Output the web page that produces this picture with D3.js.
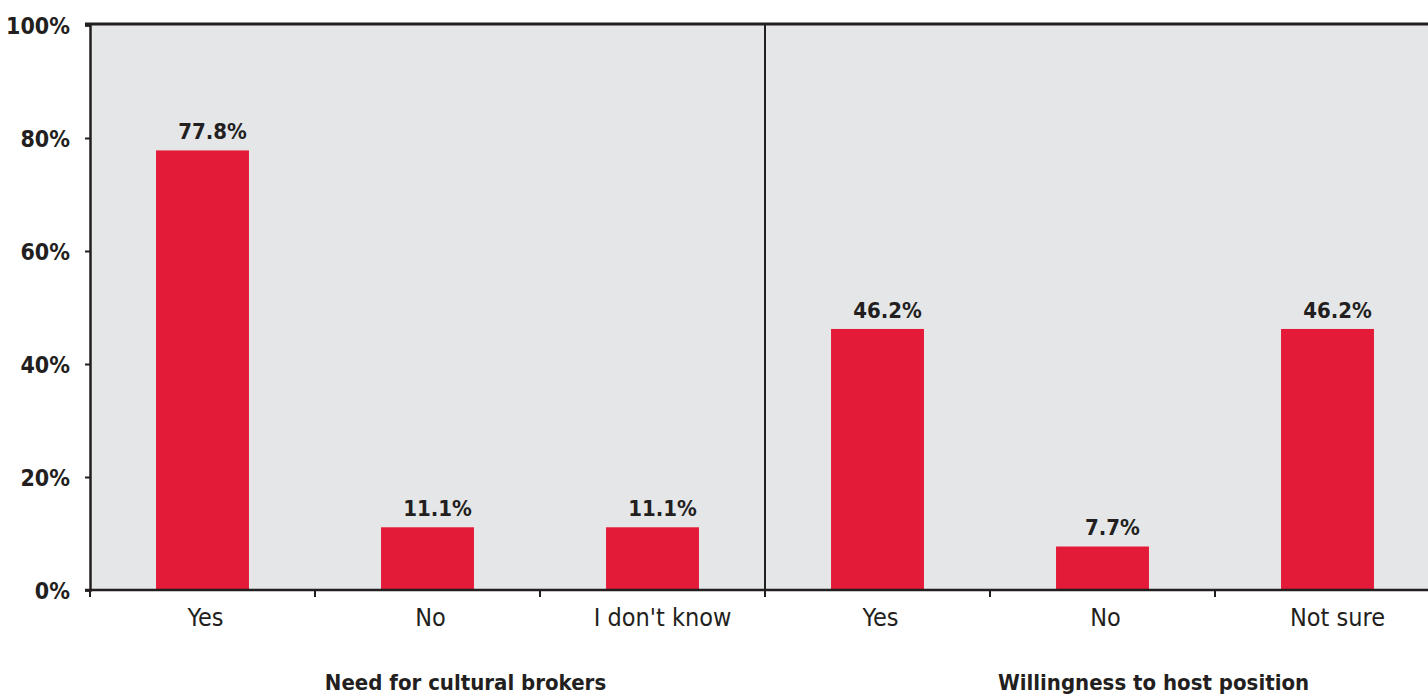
<!DOCTYPE html>
<html><head><meta charset="utf-8">
<script src="https://cdn.jsdelivr.net/npm/d3@7/dist/d3.min.js"></script>
<style>
body{margin:0;background:#fff;}
svg{display:block;}
text{font-family:"Liberation Sans Narrow","DejaVu Sans Condensed","Arial Narrow",sans-serif;fill:#231f20;}
</style></head>
<body>
<script>
const categories = ["Yes","No","I don't know","Yes","No","Not sure"];
const values = [77.8, 11.1, 11.1, 46.2, 7.7, 46.2];
const groups = ["Need for cultural brokers","Willingness to host position"];
const groupIndex = [0,0,0,1,1,1];
const yTicks = [0,20,40,60,80,100];

const W=1428,H=696;
const m={left:90,right:-12,top:25,bottom:106};
const svg=d3.select("body").append("svg").attr("width",W).attr("height",H);
const ids=categories.map((c,i)=>i);
const x=d3.scaleBand().domain(ids).range([m.left,W-m.right]).paddingInner(0.587).paddingOuter(0.2935);
const xs=d3.scaleBand().domain(ids).range([m.left,W-m.right]);
const y=d3.scaleLinear().domain([0,100]).range([H-m.bottom,m.top]);

svg.append("rect").attr("x",m.left).attr("y",m.top).attr("width",W-m.right-m.left).attr("height",y(0)-m.top).attr("fill","#e5e6e8");

svg.selectAll("rect.bar").data(values).enter().append("rect").attr("class","bar")
 .attr("x",(d,i)=>x(i)).attr("width",x.bandwidth()).attr("y",d=>y(d)).attr("height",d=>y(0)-y(d)).attr("fill","#e31a38");

svg.selectAll("text.val").data(values).enter().append("text").attr("class","val")
 .attr("x",(d,i)=>x(i)+x.bandwidth()/2+10).attr("y",d=>y(d)-11)
 .attr("text-anchor","middle").attr("font-weight","bold").attr("font-size",22)
 .text(d=>d.toFixed(1)+"%");

// separator between groups
const sepX=xs(3);
svg.append("line").attr("x1",sepX).attr("x2",sepX).attr("y1",m.top).attr("y2",y(0)+6).attr("stroke","#231f20").attr("stroke-width",2);

// top border
svg.append("line").attr("x1",m.left-5).attr("x2",W).attr("y1",m.top-1).attr("y2",m.top-1).attr("stroke","#231f20").attr("stroke-width",3);

// y axis
const ya=svg.append("g").attr("transform",`translate(${m.left},0)`)
 .call(d3.axisLeft(y).tickValues(yTicks).tickFormat(d=>d+"%").tickSize(5).tickPadding(15));
ya.select(".domain").attr("stroke","#231f20").attr("stroke-width",2.5);
ya.selectAll(".tick line").attr("stroke","#231f20").attr("stroke-width",2);
ya.selectAll(".tick text").attr("font-size",23).attr("font-weight","bold").attr("font-family",null).attr("fill","#231f20").attr("dy","0.35em");

// x axis
const xa=svg.append("g").attr("transform",`translate(0,${y(0)})`)
 .call(d3.axisBottom(xs).tickFormat(i=>categories[i]).tickSize(0).tickPadding(18));
xa.select(".domain").remove();
xa.selectAll(".tick text").attr("font-size",25).attr("font-family",null).attr("fill","#231f20").attr("dx",(i)=>categories[i].length>4?10:3);
svg.append("line").attr("x1",m.left-5).attr("x2",W).attr("y1",y(0)).attr("y2",y(0)).attr("stroke","#231f20").attr("stroke-width",2.5);
// boundary ticks
const bounds=ids.map(i=>xs(i));
svg.selectAll("line.bt").data(bounds).enter().append("line").attr("class","bt")
 .attr("x1",d=>d).attr("x2",d=>d).attr("y1",y(0)).attr("y2",y(0)+7).attr("stroke","#231f20").attr("stroke-width",2);

// group titles
groups.forEach((g,gi)=>{
  const idx=ids.filter(i=>groupIndex[i]===gi);
  const cx=(xs(idx[0])+xs(idx[idx.length-1])+xs.bandwidth())/2;
  svg.append("text").attr("x",cx+(gi===0?38:51)).attr("y",H-6)
   .attr("text-anchor","middle").attr("font-weight","bold").attr("font-size",22).text(g);
});
</script>
</body></html>
